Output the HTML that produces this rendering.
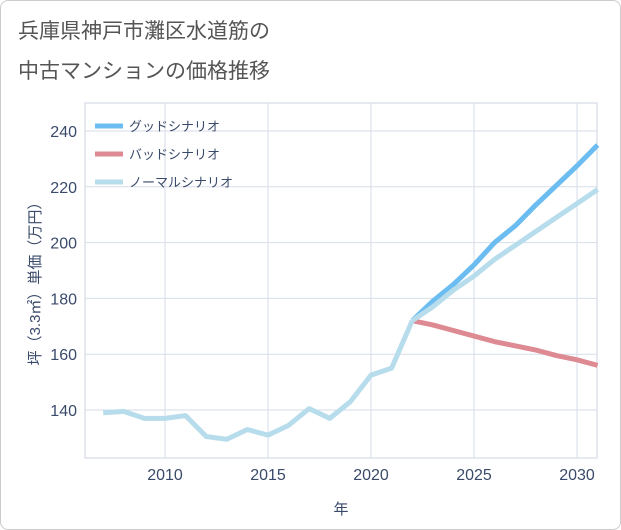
<!DOCTYPE html>
<html><head><meta charset="utf-8"><style>
body{margin:0;background:#fff;font-family:"Liberation Sans","Noto Sans CJK JP",sans-serif;}
#wrap{position:relative;width:619px;height:528px;border:1px solid #ccc;border-radius:8px;overflow:hidden;background:#fff}
</style></head><body>
<div id="wrap">
<svg id="c" width="621" height="530" style="position:absolute;left:-1px;top:-1px">
<text x="18" y="38" font-size="21" fill="#555">兵庫県神戸市灘区水道筋の</text>
<text x="18" y="78" font-size="21" fill="#555">中古マンションの価格推移</text>
<text x="40" y="280" font-size="15" fill="#3a4a6a" transform="rotate(-90 40 280)" text-anchor="middle">坪（3.3㎡）単価（万円）</text>
<text x="341" y="514" font-size="15" fill="#3a4a6a" text-anchor="middle">年</text>
<g id="grid"></g><g id="series"></g><g id="legend"></g>
</svg>
</div>
<script>
const years=[2007,2008,2009,2010,2011,2012,2013,2014,2015,2016,2017,2018,2019,2020,2021,2022];
const history=[139,139.5,137,137,138,130.5,129.5,133,131,134.5,140.5,137,143,152.5,155,172];
const futureYears=[2022,2023,2024,2025,2026,2027,2028,2029,2030,2031];
const good=[172,179,185,192,200,206,213.5,220.5,227.5,235];
const bad=[172,170.5,168.5,166.5,164.5,163,161.5,159.5,158,156];
const normal=[172,177,183,188,194,199,204,209,214,219];
const xTicks=[2010,2015,2020,2025,2030];
const yTicks=[140,160,180,200,220,240];
const NS="http://www.w3.org/2000/svg";
const L=85,R=597,T=103,B=458;
const x=v=>165+(v-2010)*20.6;
const y=v=>410-(v-140)*2.79;
function mk(tag,attrs,parent){const e=document.createElementNS(NS,tag);for(const k in attrs)e.setAttribute(k,attrs[k]);parent.appendChild(e);return e;}
const g=document.getElementById('grid');
const frame=mk('rect',{x:L,y:T,width:R-L,height:B-T,fill:'none',stroke:'#ccd6e0'},g);


yTicks.forEach(v=>{
 const l=mk('line',{x1:L,x2:R,y1:y(v),y2:y(v),stroke:'#d5dee8'},g);
 
 
 const t=mk('text',{x:L-8,y:y(v)+6,'font-size':16,fill:'#3a4a6a','text-anchor':'end'},g);t.textContent=v;
 
 
});
xTicks.forEach(v=>{
 const l=mk('line',{x1:x(v),x2:x(v),y1:T,y2:B,stroke:'#d5dee8'},g);
 
 
 const t=mk('text',{x:x(v),y:B+22,'font-size':16,fill:'#3a4a6a','text-anchor':'middle'},g);t.textContent=v;
 
 
});
const s=document.getElementById('series');
function line(xs,ys,color,name){
 const p=mk('polyline',{points:xs.map((v,i)=>x(v)+','+y(ys[i])).join(' '),fill:'none',stroke:color,'stroke-width':5,'stroke-linejoin':'round'},s);
 
 
}
line(futureYears,good,'#6bbcf0','good-scenario-line');
line(futureYears,bad,'#de8a92','bad-scenario-line');
line(futureYears,normal,'#b7dcec','normal-scenario-line');
line(years,history,'#b7dcec','history-line');
const lg=document.getElementById('legend');
[['グッドシナリオ','#6bbcf0'],['バッドシナリオ','#de8a92'],['ノーマルシナリオ','#b7dcec']].forEach((d,i)=>{
 const yy=126+i*28;
 const l=mk('line',{x1:95,x2:123,y1:yy,y2:yy,stroke:d[1],'stroke-width':5},lg);
 
 
 const t=mk('text',{x:129,y:yy+5,'font-size':13,fill:'#3a4a6a'},lg);t.textContent=d[0];
 
 
});
</script>
</body></html>
